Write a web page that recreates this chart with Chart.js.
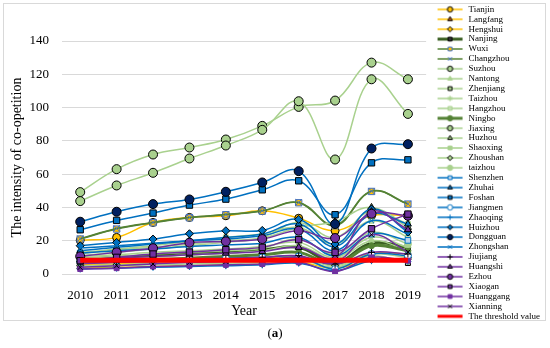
<!DOCTYPE html>
<html><head><meta charset="utf-8">
<script src="https://cdn.jsdelivr.net/npm/chart.js@4.4.1/dist/chart.umd.min.js"></script>
<style>
html,body{margin:0;padding:0;background:#fff;}
#wrap{position:relative;width:550px;height:348px;overflow:hidden;}
#c{position:absolute;left:0;top:0;}
#cap{position:absolute;left:0;width:550px;top:325px;text-align:center;font:13px "Liberation Serif",serif;color:#000;}
</style></head><body>
<div id="wrap"><canvas id="c" width="550" height="348"></canvas><div id="cap">(<b>a</b>)</div></div>
<script>
const years = ['2010','2011','2012','2013','2014','2015','2016','2017','2018','2019'];
const yTicks = [0,20,40,60,80,100,120,140];

const tianjin   = [20.3, 22, 31, 34, 35, 38, 33.5, 26, 35, 35];
const langfang  = [5.5, 6, 7, 8, 8.5, 9.5, 10.5, 6, 12.5, 12];
const hengshui  = [3.5, 4, 4.5, 5, 5.5, 6, 7, 3.5, 8.5, 9];
const nanjing   = [9, 10, 11, 12, 13, 14.5, 16, 7, 18.5, 16];
const wuxi      = [21, 27, 30.8, 33.8, 35.6, 37.8, 42.8, 29, 49.6, 42];
const changzhou = [21.2, 27.4, 31, 34, 35.8, 38, 43, 29.5, 49.8, 42.2];
const suzhou    = [49.2, 63, 71.8, 76, 80.8, 89, 100.4, 104.2, 127, 117];
const nantong   = [8, 9, 10, 11.5, 12.5, 14, 17, 9, 20, 14];
const zhenjiang = [4.5, 5, 5.5, 6, 6.5, 7, 8.5, 4, 11, 6.6];
const taizhouJS = [10.5, 11.5, 13, 14, 15, 16.5, 19, 10, 22, 16];
const hangzhou  = [12, 15, 17, 19.5, 22, 24, 28, 18, 32, 22];
const ningbo    = [7, 7.5, 8.5, 9.5, 10.5, 11.5, 13, 6, 17, 14];
const jiaxing   = [43.8, 53.2, 60.8, 69.4, 77.2, 86.6, 103.8, 68.8, 117, 96.2];
const huzhou    = [11, 13, 15, 17, 19, 21.5, 28, 31.6, 40, 28];
const shaoxing  = [13, 14.5, 16, 18, 20, 22, 31, 22, 38, 30];
const zhoushan  = [5, 5.5, 6.5, 7, 7.5, 8.5, 9.5, 5, 12, 10];
const taizhouZJ = [9.5, 10.5, 12, 13, 14, 15.5, 21, 12, 25, 18];
const shenzhen  = [12.5, 14, 15, 16.5, 17.5, 18.5, 22, 11, 24, 20.2];
const zhuhai    = [14, 16, 18, 20, 22, 24, 30, 16.6, 36, 30];
const foshan    = [26.6, 32.2, 36.6, 41.4, 45, 50.6, 56, 35.6, 66.8, 68.6];
const jiangmen  = [7.5, 8, 8.5, 9, 9.5, 10, 10.5, 3, 12, 11];
const zhaoqing  = [3, 3.5, 4, 4.5, 5, 5.5, 6.5, 2, 8, 7.5];
const huizhou   = [17, 19, 21, 24.2, 26, 26.2, 32.8, 18, 39, 25.2];
const dongguan  = [31.4, 37.4, 42, 44.8, 49.4, 55, 61.8, 30, 75.4, 78];
const zhongshan = [15.6, 17, 18.5, 20, 21, 23, 27, 14, 32, 24];
const jiujiang  = [6, 7, 7.5, 8.5, 9, 10, 11, 6, 13, 12];
const huangshi  = [8.5, 9.5, 10.5, 11.5, 12.5, 13.5, 16, 10, 37.5, 26.6];
const ezhou     = [10.6, 13, 15.5, 18.8, 19.6, 21, 26, 21.6, 36.2, 35];
const xiaogan   = [8, 10, 12, 13.2, 14.6, 16, 20.6, 13, 27.2, 36];
const huanggang = [3, 3.5, 4.5, 5, 5.5, 6, 7, 1.5, 10, 8];
const xianning  = [4, 5, 6, 7, 7.5, 8.5, 10, 7, 23.6, 13.2];
const threshold = [8.2, 8.2, 8.2, 8.2, 8.2, 8.2, 8.2, 8.2, 8.2, 8.2];

const F = '"Liberation Serif", "Times New Roman", serif';
const YEL='#FFC000', DG='#3A5F22', MG='#548235', LG='#A9D18E', BL='#0070C0', PU='#7030A0';

function s(label, data, line, style, fill, border, r, lw){
  return {label, data, borderColor: line, backgroundColor: fill,
    pointBackgroundColor: fill, pointBorderColor: border, pointStyle: style,
    pointRadius: r, pointHoverRadius: r, pointBorderWidth: 1, borderWidth: lw || 1.5,
    tension: 0.4, fill: false, xAxisID: 'x', yAxisID: 'y'};
}
const datasets = [
  s('Tianjin', tianjin, YEL, 'circle', YEL, '#000', 4),
  s('Langfang', langfang, YEL, 'triangle', '#C55A11', '#000', 3.5),
  s('Hengshui', hengshui, YEL, 'rectRot', YEL, '#000', 3.5),
  s('Nanjing', nanjing, DG, 'rect', '#333', '#000', 3.5, 3),
  s('Wuxi', wuxi, MG, 'rect', YEL, '#4472C4', 4.5),
  s('Changzhou', changzhou, MG, 'crossRot', YEL, '#4472C4', 4.5),
  s('Suzhou', suzhou, LG, 'circle', LG, '#000', 4.5),
  s('Nantong', nantong, LG, 'triangle', LG, LG, 3.5),
  s('Zhenjiang', zhenjiang, LG, 'rect', LG, '#000', 3.5),
  s('Taizhou', taizhouJS, LG, 'star', LG, LG, 3.5),
  s('Hangzhou', hangzhou, LG, 'rect', '#C5E0B4', LG, 3.5),
  s('Ningbo', ningbo, MG, 'circle', MG, MG, 3, 3),
  s('Jiaxing', jiaxing, LG, 'circle', LG, '#000', 4.5),
  s('Huzhou', huzhou, LG, 'triangle', LG, '#000', 4),
  s('Shaoxing', shaoxing, LG, 'rect', LG, LG, 3.5),
  s('Zhoushan', zhoushan, LG, 'rectRot', LG, '#000', 3.5),
  s('taizhou', taizhouZJ, LG, 'circle', LG, LG, 3.5),
  s('Shenzhen', shenzhen, BL, 'rect', '#BDD7EE', BL, 4),
  s('Zhuhai', zhuhai, BL, 'triangle', BL, '#000', 4),
  s('Foshan', foshan, BL, 'rect', BL, '#000', 4.5),
  s('Jiangmen', jiangmen, BL, 'circle', '#fff', BL, 3.5),
  s('Zhaoqing', zhaoqing, BL, 'cross', BL, BL, 3.5),
  s('Huizhou', huizhou, BL, 'rectRot', BL, '#000', 4),
  s('Dongguan', dongguan, BL, 'circle', '#002060', '#000', 4.5),
  s('Zhongshan', zhongshan, BL, 'crossRot', BL, BL, 3.5),
  s('Jiujiang', jiujiang, PU, 'cross', '#000', '#000', 3.5),
  s('Huangshi', huangshi, PU, 'triangle', PU, '#000', 4),
  s('Ezhou', ezhou, PU, 'circle', PU, '#000', 4.5),
  s('Xiaogan', xiaogan, PU, 'rect', PU, '#000', 4.5),
  s('Huanggang', huanggang, PU, 'rect', PU, PU, 3.5),
  s('Xianning', xianning, PU, 'crossRot', '#000', '#000', 3.5),
  s('The threshold value', threshold, '#FF0000', 'circle', '#FF0000', '#FF0000', 0, 5)
];
const N = datasets.length;
datasets.forEach((d, i) => { d.order = N - i; });

function makeIcon(d){
  const c = document.createElement('canvas'); c.width = 40; c.height = 10;
  const g = c.getContext('2d');
  g.strokeStyle = d.borderColor; g.lineWidth = Math.min(d.borderWidth, 3);
  g.beginPath(); g.moveTo(12, 5); g.lineTo(37, 5); g.stroke();
  if (d.pointRadius > 0) {
    g.fillStyle = d.pointBackgroundColor; g.strokeStyle = d.pointBorderColor; g.lineWidth = 1;
    if (Chart.helpers && Chart.helpers.drawPoint) {
      Chart.helpers.drawPoint(g, {pointStyle: d.pointStyle, radius: 2.7, rotation: 0, borderWidth: 1}, 24.5, 5);
    } else {
      g.beginPath(); g.arc(24.5, 5, 2.5, 0, Math.PI * 2); g.fill(); g.stroke();
    }
  }
  return c;
}
const icons = datasets.map(makeIcon);

const frame = {
  id: 'frame',
  beforeDraw(chart){
    const g = chart.ctx; g.save();
    g.fillStyle = '#fff'; g.fillRect(0, 0, chart.width, chart.height);
    g.strokeStyle = '#d9d9d9'; g.lineWidth = 1; g.strokeRect(3.5, 3.5, 542, 317);
    g.restore();
  }
};

new Chart(document.getElementById('c'), {
  type: 'line',
  data: {labels: years, datasets},
  plugins: [frame],
  options: {
    responsive: false, animation: false, devicePixelRatio: 1,
    layout: {padding: {left: 4, right: 0, top: 4, bottom: 0}},
    plugins: {
      legend: {
        position: 'right', align: 'start',
        labels: {
          usePointStyle: true, pointStyleWidth: 37, padding: 0.9,
          font: {family: F, size: 9}, color: '#000',
          generateLabels: (chart) => chart.data.datasets.map((d, i) => ({
            text: d.label, pointStyle: icons[i], datasetIndex: i, hidden: false,
            fontColor: '#000', lineWidth: 0, strokeStyle: 'rgba(0,0,0,0)', fillStyle: 'rgba(0,0,0,0)'
          }))
        }
      },
      tooltip: {enabled: false}
    },
    scales: {
      x: {
        type: 'category', position: 'bottom', offset: true,
        grid: {display: false}, border: {display: false},
        ticks: {font: {family: F, size: 13}, color: '#000', padding: 6, maxRotation: 0},
        title: {display: true, text: 'Year', font: {family: F, size: 14}, color: '#000', padding: {top: 0, bottom: 28}},
        afterFit: (sc) => { sc.height = 74; }
      },
      y: {
        type: 'linear', position: 'left', min: 0, max: 140,
        afterBuildTicks: (sc) => { sc.ticks = yTicks.map(v => ({value: v})); },
        grid: {color: '#d9d9d9', drawTicks: false, lineWidth: 1}, border: {display: false},
        ticks: {font: {family: F, size: 13}, color: '#000', padding: 13},
        title: {display: true, text: 'The intensity of co-opetition', font: {family: F, size: 14}, color: '#000', padding: {top: 5, bottom: 0}},
        afterFit: (sc) => { sc.width = 58; }
      },
      topSpace: {
        type: 'linear', position: 'top', display: true,
        grid: {display: false}, border: {display: false}, ticks: {display: false},
        afterFit: (sc) => { sc.height = 37; }
      }
    }
  }
});
</script>
</body></html>
